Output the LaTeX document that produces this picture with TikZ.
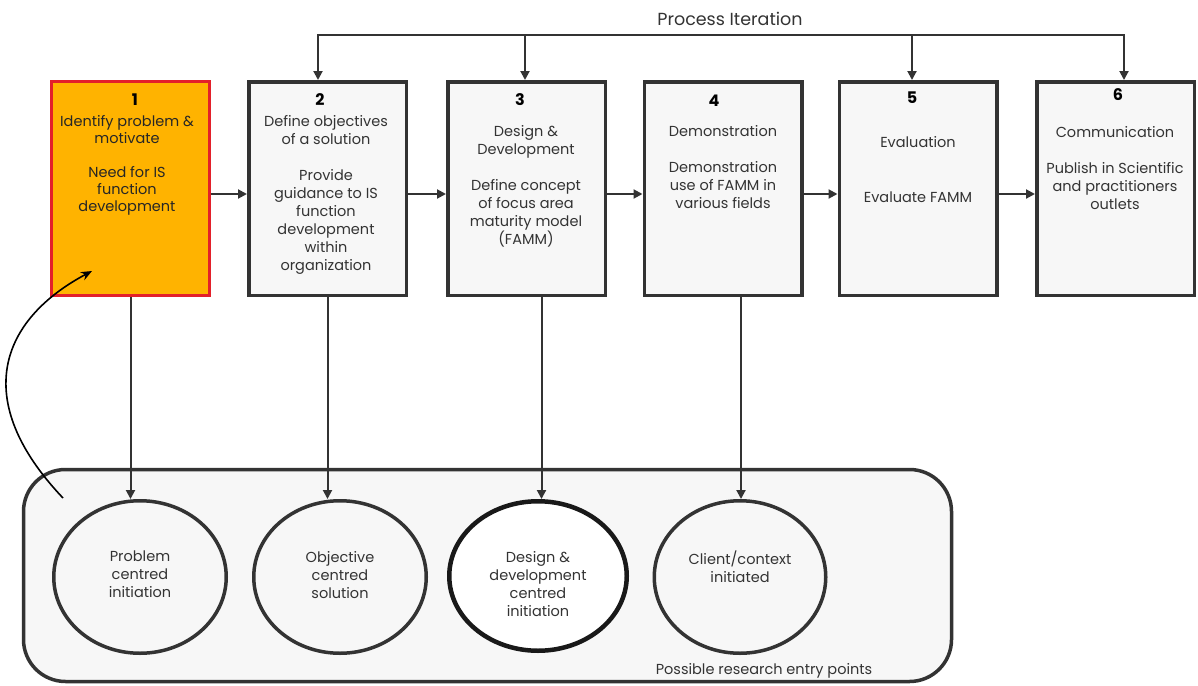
\documentclass[tikz,border=0pt]{standalone}
\usepackage{fontspec}
\setmainfont{Poppins}
\usetikzlibrary{arrows.meta,shapes.geometric,calc}
\definecolor{boxfill}{HTML}{F7F7F7}
\definecolor{edge}{HTML}{333333}
\definecolor{txt}{HTML}{333333}
\definecolor{orangefill}{HTML}{FFB300}
\definecolor{redline}{HTML}{E3202A}
\begin{document}
\begin{tikzpicture}[x=1pt,y=-1pt,
  stepbox/.style={rectangle,draw=edge,line width=3.5pt,fill=boxfill,minimum width=157.5pt,minimum height=213.5pt,inner sep=0pt},
  firstbox/.style={stepbox,draw=redline,line width=3pt,fill=orangefill},
  entry/.style={ellipse,draw=edge,line width=3.5pt,fill=boxfill,minimum width=172.5pt,minimum height=152.5pt,inner sep=0pt},
  numlabel/.style={font=\fontsize{16}{18}\selectfont\bfseries,text=black,inner sep=0pt},
  body/.style={font=\fontsize{14.5}{18}\selectfont,text=txt,align=center,inner sep=0pt,anchor=north},
  arr/.style={draw=edge,line width=2pt,-{Triangle[length=9pt,width=9pt]}},
  line/.style={draw=edge,line width=2pt}
]
\useasboundingbox (0,0) rectangle (1198,685);

% boxes
\node[firstbox] (b1) at (130.5,188.5) {};
\node[stepbox] (b2) at (327.5,188.5) {};
\node[stepbox] (b3) at (526.5,188.5) {};
\node[stepbox] (b4) at (723,188.5) {};
\node[stepbox] (b5) at (918,188.5) {};
\node[stepbox] (b6) at (1115.5,188.5) {};

% numbers
\node[numlabel] (n1) at (135,100) {1};
\node[numlabel] (n2) at (320,100) {2};
\node[numlabel] (n3) at (520,100) {3};
\node[numlabel] (n4) at (714,101) {4};
\node[numlabel] (n5) at (912,98) {5};
\node[numlabel] (n6) at (1118,95) {6};

% texts in boxes
\node[body,font=\fontsize{14.5}{17}\selectfont,text=black!85] (t1) at (127,115) {Identify problem \&\\motivate\\[17pt]Need for IS\\function\\development};
\node[body] (t2) at (326,115) {Define objectives\\of a solution\\[18pt]Provide\\guidance to IS\\function\\development\\within\\organization};
\node[body] (t3) at (526,125) {Design \&\\Development\\[18pt]Define concept\\of focus area\\maturity model\\(FAMM)};
\node[body] (t4) at (723,125) {Demonstration\\[18pt]Demonstration\\use of FAMM in\\various fields};
\node[body] (t5) at (918,136) {Evaluation\\[37pt]Evaluate FAMM};
\node[body] (t6) at (1115,126) {Communication\\[18pt]Publish in Scientific\\and practitioners\\outlets};

% process iteration
\node[font=\fontsize{17.5}{20}\selectfont,text=txt,inner sep=0pt] (pi) at (730,19) {Process Iteration};
\coordinate (j2) at (318,35);
\coordinate (j3) at (525,35);
\coordinate (j5) at (912,35);
\coordinate (j6) at (1124,35);
\draw[line] ([xshift=-1pt]j2) -- ([xshift=1pt]j6);
\draw[arr] (j2) -- (j2 |- b2.north);
\draw[arr] (j3) -- (j3 |- b3.north);
\draw[arr] (j5) -- (j5 |- b5.north);
\draw[arr] (j6) -- (j6 |- b6.north);

% horizontal arrows
\draw[arr] ([yshift=-5.5pt]b1.east) -- ([yshift=-5.5pt]b2.west);
\draw[arr] ([yshift=-5.5pt]b2.east) -- ([yshift=-5.5pt]b3.west);
\draw[arr] ([yshift=-5.5pt]b3.east) -- ([yshift=-5.5pt]b4.west);
\draw[arr] ([yshift=-5.5pt]b4.east) -- ([yshift=-5.5pt]b5.west);
\draw[arr] ([yshift=-5.5pt]b5.east) -- ([yshift=-5.5pt]b6.west);

% entry points container
\node[draw=edge,line width=3.5pt,fill=boxfill,rounded corners=42pt,minimum width=928pt,minimum height=212pt,inner sep=0pt] (pool) at (487.5,575.5) {};
\node[font=\fontsize{14.5}{17}\selectfont,text=txt,inner sep=0pt] (poollabel) at (764,671) {Possible research entry points};

% circles
\node[entry] (c1) at (140,577) {};
\node[entry] (c2) at (340,577) {};
\node[entry,fill=white,draw=black!90,line width=4.5pt,minimum width=177.5pt,minimum height=149.5pt] (c3) at (538,576) {};
\node[entry,minimum width=171.5pt] (c4) at (740,577) {};

\node[body] (ct1) at (140,551) {Problem\\centred\\initiation};
\node[body] (ct2) at (340,551) {Objective\\centred\\solution};
\node[body] (ct3) at (538,551) {Design \&\\development\\centred\\initiation};
\node[body] (ct4) at (740,551) {Client/context\\initiated};

% vertical arrows
\draw[arr] (b1.south) -- (b1.south |- c1.north);
\draw[arr] (b2.south) -- (b2.south |- c2.north);
\draw[arr] ([xshift=15pt]b3.south) -- ([xshift=15pt]b3.south |- c3.north);
\draw[arr] ([xshift=18pt]b4.south) -- ([xshift=18pt]b4.south |- c4.north);

% curved entry arrow
\coordinate (cs) at (63,498);
\coordinate (ce) at (92,271);
\draw[line width=1.6pt,black,-{Stealth[length=11pt,width=9pt]}] (cs) .. controls (-30,400) and (0,320) .. (ce);
\end{tikzpicture}
\end{document}
